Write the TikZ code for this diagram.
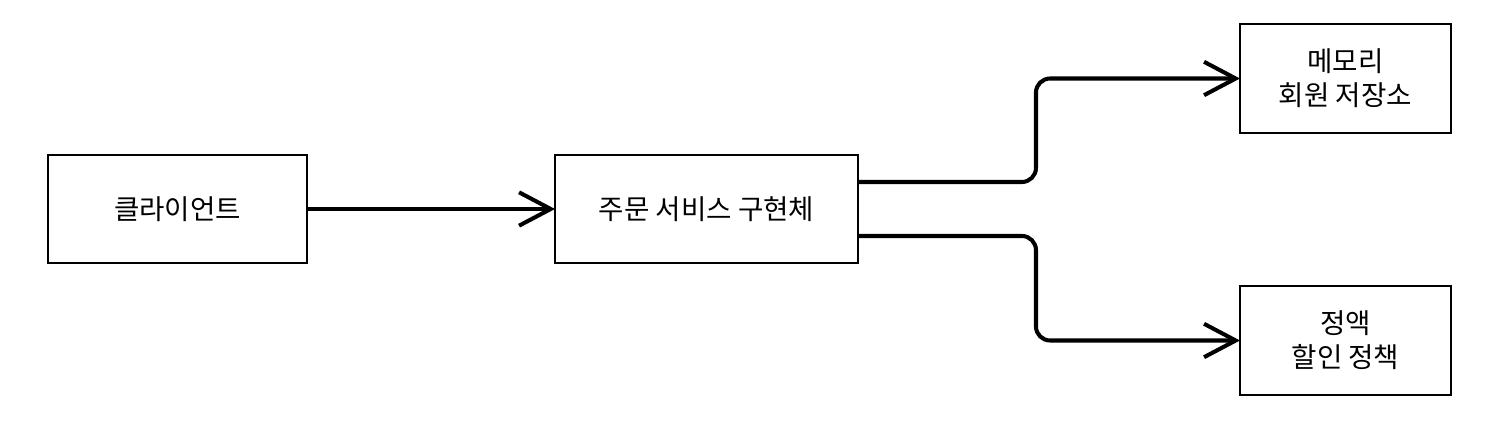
\documentclass[tikz,border=0pt]{standalone}
\usepackage{fontspec}
\setmainfont{Noto Sans CJK KR}
\usetikzlibrary{arrows.meta}

\tikzset{
  box/.style={draw, line width=1.1pt, inner sep=0pt, outer sep=0pt,
    align=center, font=\fontsize{15.7pt}{19.3pt}\selectfont},
  link/.style={line width=2.3pt, rounded corners=8pt,
    -{Straight Barb[length=18pt 0, width=19pt 0, line width=2.3pt]}}
}

\begin{document}
\begin{tikzpicture}[x=0.02cm, y=-0.02cm]
  \useasboundingbox (0,0) rectangle (1512,432);
  \node[box, minimum width=5.18cm, minimum height=2.16cm] (client) at (177.5,209) {클라이언트};
  \node[box, minimum width=6.06cm, minimum height=2.16cm] (order) at (706.5,209) {주문 서비스 구현체};
  \node[box, minimum width=4.22cm, minimum height=2.18cm] (repo) at (1345.5,78.5) {메모리\\회원 저장소};
  \node[box, minimum width=4.22cm, minimum height=2.18cm] (policy) at (1345.5,340.5) {정액\\할인 정책};

  \draw[link] (client.east) -- (order.west);
  \draw[link] ([yshift=0.54cm]order.east) -- ++(178,0) |- (repo.west);
  \draw[link] ([yshift=-0.54cm]order.east) -- ++(178,0) |- (policy.west);
\end{tikzpicture}
\end{document}
